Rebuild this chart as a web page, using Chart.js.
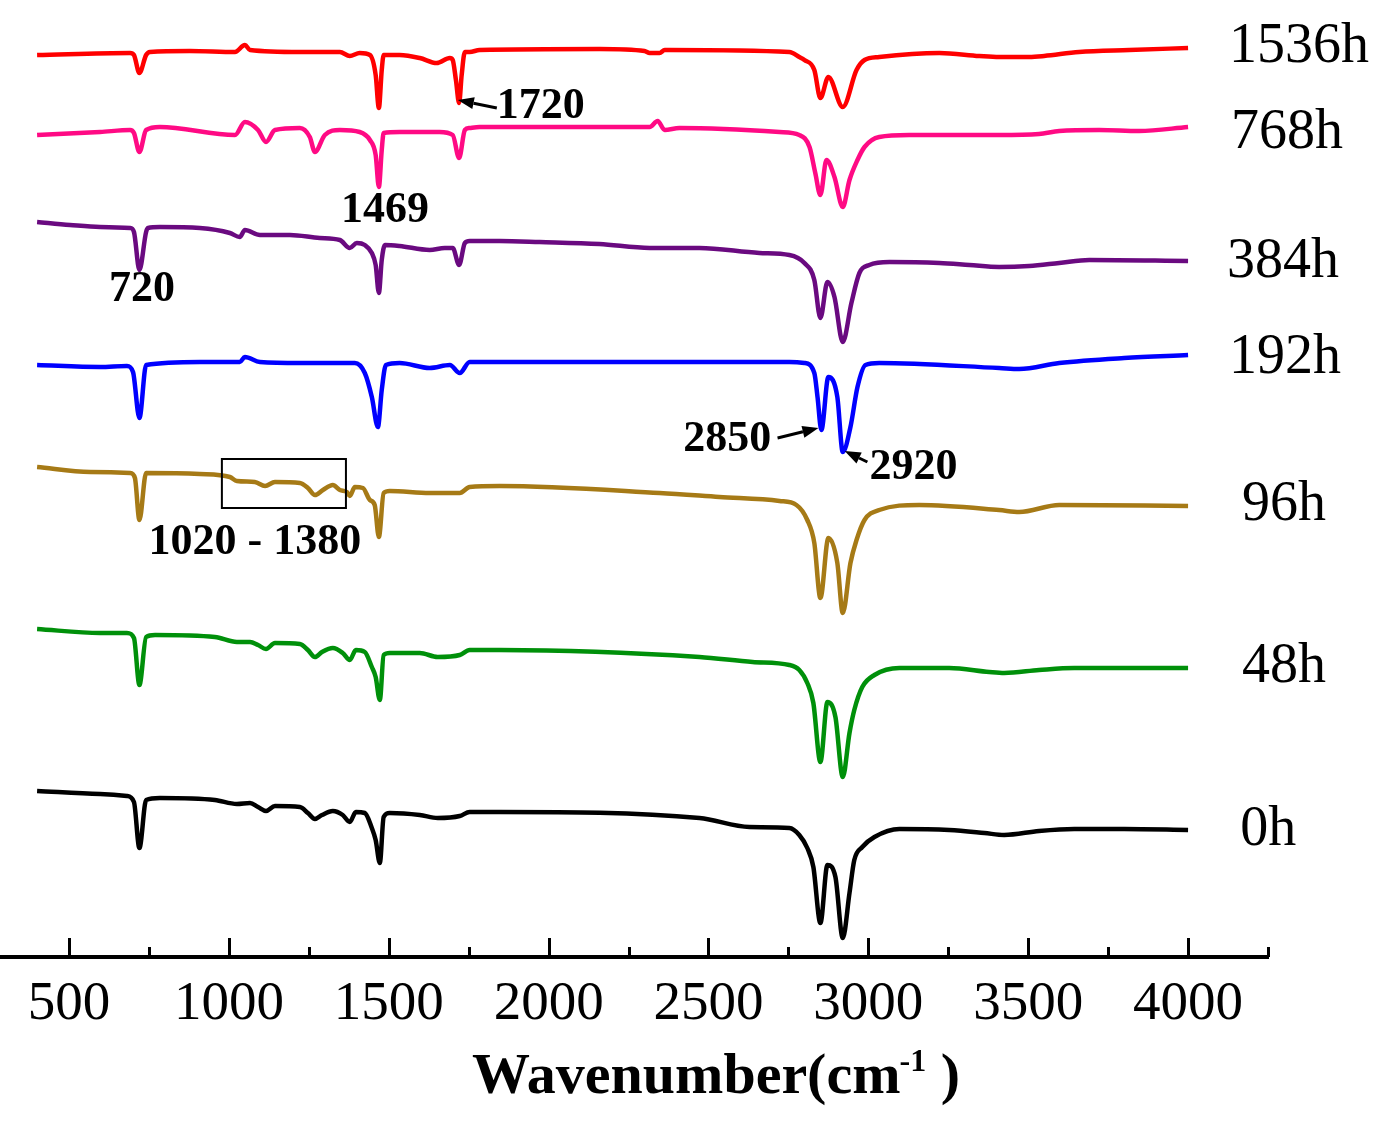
<!DOCTYPE html>
<html>
<head>
<meta charset="utf-8">
<title>FTIR spectra</title>
<script src="https://cdn.jsdelivr.net/npm/chart.js@4.4.1/dist/chart.umd.min.js"></script>
<style>
  html, body { margin: 0; padding: 0; background: #fff; }
  #wrap { width: 1390px; height: 1124px; }
</style>
</head>
<body>
<div id="wrap"><canvas id="ftir" width="1390" height="1124"></canvas></div>
<script>
// ── Data (wavenumber cm-1, stacked offset absorbance, larger = lower on plot) ──
const SERIES_NAMES = ['1536h', '768h', '384h', '192h', '96h', '48h', '0h'];
const SERIES_COLORS = ['#ff0000', '#ff0a84', '#6a0a80', '#0000ff', '#a67a16', '#00900a', '#000000'];

const S_1536 = [[400,55],[691,53],[703,55],[720,73],[741,55],[753,52],[878,51],[1019,52],[1050,45],[1066,50],
  [1222,52],[1347,52],[1378,56],[1409,53],[1441,55],[1459,75],[1469,108],[1478,70],[1484,55],[1534,55],
  [1597,58],[1650,63],[1691,58],[1700,60],[1710,80],[1720,103],[1728,75],[1738,52],[1753,52],[1784,50],
  [2159,49],[2300,51],[2316,53],[2347,53],[2363,50],[2378,50],[2753,52],[2784,57],[2800,60],[2831,70],
  [2850,98],[2875,77],[2920,107],[2963,70],[2988,60],[3034,57],[3222,53],[3347,56],[3409,57],[3503,57],
  [3550,56],[3659,52],[3816,50],[4000,48]];

const S_768 = [[400,135],[597,132],[691,130],[703,133],[720,152],[741,130],[784,127],[1019,135],[1050,122],
  [1091,130],[1116,142],[1144,130],[1222,128],[1253,137],[1269,152],[1300,135],[1347,130],[1409,132],
  [1441,140],[1459,155],[1469,187],[1478,150],[1484,133],[1534,132],[1659,132],[1700,135],[1720,158],
  [1738,130],[1753,128],[1784,127],[2316,127],[2341,121],[2363,130],[2409,128],[2722,132],[2784,135],
  [2816,147],[2834,173],[2850,195],[2869,160],[2894,177],[2920,207],[2941,180],[2966,160],[2988,147],
  [3034,137],[3128,135],[3409,135],[3534,134],[3597,131],[3722,130],[3847,131],[4000,127]];

const S_384 = [[400,222],[503,225],[597,227],[691,228],[703,232],[720,270],[741,232],[747,228],[784,227],
  [909,228],[1003,233],[1034,237],[1050,230],[1097,235],[1191,235],[1284,238],[1347,240],[1378,248],
  [1400,243],[1425,245],[1447,253],[1459,265],[1469,293],[1478,260],[1488,245],[1534,246],[1628,250],
  [1675,248],[1700,248],[1720,265],[1738,243],[1753,241],[1847,241],[1972,242],[2159,244],[2316,248],
  [2472,248],[2659,253],[2753,255],[2800,263],[2831,280],[2850,318],[2872,282],[2894,297],[2920,342],
  [2947,303],[2972,273],[3003,265],[3066,262],[3222,263],[3316,265],[3409,267],[3503,266],[3597,263],
  [3691,260],[4000,261]];

const S_192 = [[400,365],[597,367],[681,366],[700,372],[720,418],[741,365],[909,362],[1034,362],[1050,357],
  [1097,362],[1222,363],[1394,363],[1425,373],[1447,397],[1466,427],[1478,390],[1491,365],[1534,363],
  [1628,368],[1691,365],[1722,373],[1753,362],[1847,362],[2347,362],[2534,362],[2753,362],[2800,363],
  [2831,373],[2841,397],[2853,430],[2875,377],[2903,397],[2920,452],[2944,427],[2966,387],[2991,365],
  [3034,363],[3409,368],[3472,369],[3597,363],[3800,358],[4000,355]];

const S_96 = [[400,467],[566,472],[691,473],[706,478],[720,520],[741,473],[909,474],[1003,477],[1025,481],
  [1081,482],[1113,486],[1144,482],[1222,483],[1247,488],[1269,495],[1294,490],[1325,485],[1347,490],
  [1369,492],[1378,496],[1394,487],[1419,488],[1441,500],[1456,505],[1469,537],[1484,493],[1503,491],
  [1628,493],[1722,493],[1753,487],[1847,486],[2347,493],[2534,497],[2722,501],[2775,505],[2809,520],
  [2831,543],[2850,598],[2875,538],[2903,563],[2920,613],[2944,563],[2963,540],[2988,520],[3034,510],
  [3159,505],[3409,510],[3472,512],[3597,505],[4000,506]];

const S_48 = [[400,629],[597,633],[681,633],[703,638],[720,685],[741,637],[769,635],[956,637],[1025,642],
  [1066,642],[1091,645],[1116,649],[1144,643],[1222,644],[1247,650],[1269,657],[1291,652],[1325,648],
  [1356,653],[1378,660],[1397,650],[1425,652],[1447,667],[1459,677],[1472,700],[1484,655],[1503,653],
  [1597,653],[1653,657],[1722,655],[1753,650],[1847,650],[2472,657],[2638,662],[2753,665],[2784,670],
  [2809,683],[2828,703],[2850,762],[2872,702],[2897,717],[2920,777],[2941,733],[2956,710],[2981,687],
  [3019,675],[3097,668],[3253,668],[3378,672],[3425,673],[3534,670],[3644,668],[3800,668],[4000,668]];

const S_0 = [[400,791],[597,794],[681,796],[703,802],[720,848],[741,800],[784,798],[956,800],[1025,804],
  [1066,803],[1091,807],[1116,811],[1144,806],[1222,807],[1247,813],[1269,819],[1291,815],[1325,811],
  [1356,815],[1378,822],[1397,812],[1425,813],[1447,828],[1459,840],[1472,863],[1484,817],[1503,813],
  [1597,815],[1653,818],[1722,816],[1753,812],[1847,812],[2472,818],[2628,827],[2753,828],[2784,835],
  [2809,848],[2828,867],[2850,923],[2872,865],[2897,877],[2920,938],[2941,893],[2956,860],[2981,847],
  [3019,837],[3097,829],[3253,830],[3363,833],[3425,835],[3534,831],[3644,829],[3800,829],[4000,830]];

const ALL_SERIES = [S_1536, S_768, S_384, S_192, S_96, S_48, S_0];

const X_TICKS = [500, 750, 1000, 1250, 1500, 1750, 2000, 2250, 2500, 2750, 3000, 3250, 3500, 3750, 4000, 4250];

// series labels on the right: [text, wavenumber of left edge, offset]
const SERIES_LABELS = [['1536h',4128,47],['768h',4134,133],['384h',4122,262],['192h',4128,358],
  ['96h',4169,505],['48h',4169,667],['0h',4163,830]];

// peak labels: [text, wavenumber of centre, offset]
const PEAK_LABELS = [['1720',1975,107],['1469',1488,211],['720',728,290],['2850',2559,440],
  ['2920',3141,468],['1020 - 1380',1081,543]];

// arrows: [tail wn, tail offset, head wn, head offset]
const ARROWS = [[1838,108,1716,100],[2716,438,2844,428],[2997,462,2926,451]];

// highlighted 1020-1380 region box: [wn from, wn to, offset top, offset bottom]
const REGION_BOX = [978, 1366, 459, 508];

// axis title, centred under this wavenumber
const TITLE_MAIN = 'Wavenumber(cm';
const TITLE_SUP = '-1';
const TITLE_END = ' )';
const TITLE_CENTER_WN = 2525;

// ── Decorations drawn against the chart scales ──────────────────────────
const ftirDecor = {
  id: 'ftirDecor',
  afterDraw(chart) {
    const { ctx, scales: { x, y } } = chart;
    ctx.save();

    // inward tick marks, long for labelled, short for minor
    ctx.strokeStyle = '#000';
    ctx.lineWidth = 3;
    x.ticks.forEach(t => {
      const px = Math.round(x.getPixelForValue(t.value)) + 0.5;
      const len = t.value % 500 === 0 ? 19 : 10;
      ctx.beginPath();
      ctx.moveTo(px, y.bottom);
      ctx.lineTo(px, y.bottom - len);
      ctx.stroke();
    });

    ctx.fillStyle = '#000';
    ctx.textBaseline = 'middle';

    ctx.font = "56px 'Liberation Serif', 'Times New Roman', serif";
    ctx.textAlign = 'left';
    SERIES_LABELS.forEach(([txt, wn, v]) => {
      ctx.fillText(txt, x.getPixelForValue(wn), y.getPixelForValue(v));
    });

    ctx.font = "bold 44px 'Liberation Serif', 'Times New Roman', serif";
    ctx.textAlign = 'center';
    PEAK_LABELS.forEach(([txt, wn, v]) => {
      ctx.fillText(txt, x.getPixelForValue(wn), y.getPixelForValue(v));
    });

    // arrows
    ctx.lineWidth = 3;
    ARROWS.forEach(([wn0, v0, wn1, v1]) => {
      const x0 = x.getPixelForValue(wn0), y0 = y.getPixelForValue(v0);
      const x1 = x.getPixelForValue(wn1), y1 = y.getPixelForValue(v1);
      const ang = Math.atan2(y1 - y0, x1 - x0);
      const hl = 16, hw = 6;
      const bx = x1 - hl * Math.cos(ang), by = y1 - hl * Math.sin(ang);
      ctx.beginPath();
      ctx.moveTo(x0, y0);
      ctx.lineTo(bx, by);
      ctx.stroke();
      ctx.beginPath();
      ctx.moveTo(x1, y1);
      ctx.lineTo(bx + hw * Math.sin(ang), by - hw * Math.cos(ang));
      ctx.lineTo(bx - hw * Math.sin(ang), by + hw * Math.cos(ang));
      ctx.closePath();
      ctx.fill();
    });

    // region box
    const [b0, b1, bt, bb] = REGION_BOX;
    ctx.lineWidth = 2;
    const rx = x.getPixelForValue(b0), ry = y.getPixelForValue(bt);
    ctx.strokeRect(rx, ry, x.getPixelForValue(b1) - rx, y.getPixelForValue(bb) - ry);

    // axis title with a real superscript
    const bigFont = "bold 58px 'Liberation Serif', 'Times New Roman', serif";
    const supFont = "bold 32px 'Liberation Serif', 'Times New Roman', serif";
    ctx.textAlign = 'left';
    ctx.textBaseline = 'alphabetic';
    ctx.font = bigFont;
    const wMain = ctx.measureText(TITLE_MAIN).width;
    const wEnd = ctx.measureText(TITLE_END).width;
    ctx.font = supFont;
    const wSup = ctx.measureText(TITLE_SUP).width;
    let tx = x.getPixelForValue(TITLE_CENTER_WN) - (wMain + wSup + wEnd) / 2;
    const base = chart.height - 31;
    ctx.font = bigFont;
    ctx.fillText(TITLE_MAIN, tx, base);
    tx += wMain - 1;
    ctx.font = supFont;
    ctx.fillText(TITLE_SUP, tx, base - 22);
    tx += wSup;
    ctx.font = bigFont;
    ctx.fillText(TITLE_END, tx, base);

    ctx.restore();
  }
};

// ── Chart ────────────────────────────────────────────────────────────────
Chart.defaults.font.family = "'Liberation Serif', 'Times New Roman', serif";
Chart.defaults.color = '#000';

const datasets = ALL_SERIES.map((pts, i) => ({
  label: SERIES_NAMES[i],
  data: pts.map(([wn, v]) => ({ x: wn, y: v })),
  borderColor: SERIES_COLORS[i],
  borderWidth: 4.5,
  pointRadius: 0,
  cubicInterpolationMode: 'monotone',
  fill: false
}));

new Chart(document.getElementById('ftir'), {
  type: 'line',
  data: { datasets },
  plugins: [ftirDecor],
  options: {
    responsive: false,
    animation: false,
    devicePixelRatio: 1,
    layout: { padding: { left: 0, right: 122, top: 0, bottom: 0 } },
    plugins: { legend: { display: false }, tooltip: { enabled: false } },
    scales: {
      x: {
        type: 'linear',
        min: 284,
        max: 4250,
        afterBuildTicks: s => { s.ticks = X_TICKS.map(v => ({ value: v })); },
        afterFit: s => { s.height = 167; },
        grid: { display: false, drawTicks: false },
        border: { display: true, color: '#000', width: 4 },
        ticks: {
          autoSkip: false,
          maxRotation: 0,
          padding: 15,
          font: { size: 55 },
          color: '#000',
          callback: v => (v % 500 === 0 ? String(v) : '')
        },
        title: { display: false }
      },
      y: {
        type: 'linear',
        display: false,
        reverse: true,
        min: 0,
        max: 957
      }
    }
  }
});
</script>
</body>
</html>
